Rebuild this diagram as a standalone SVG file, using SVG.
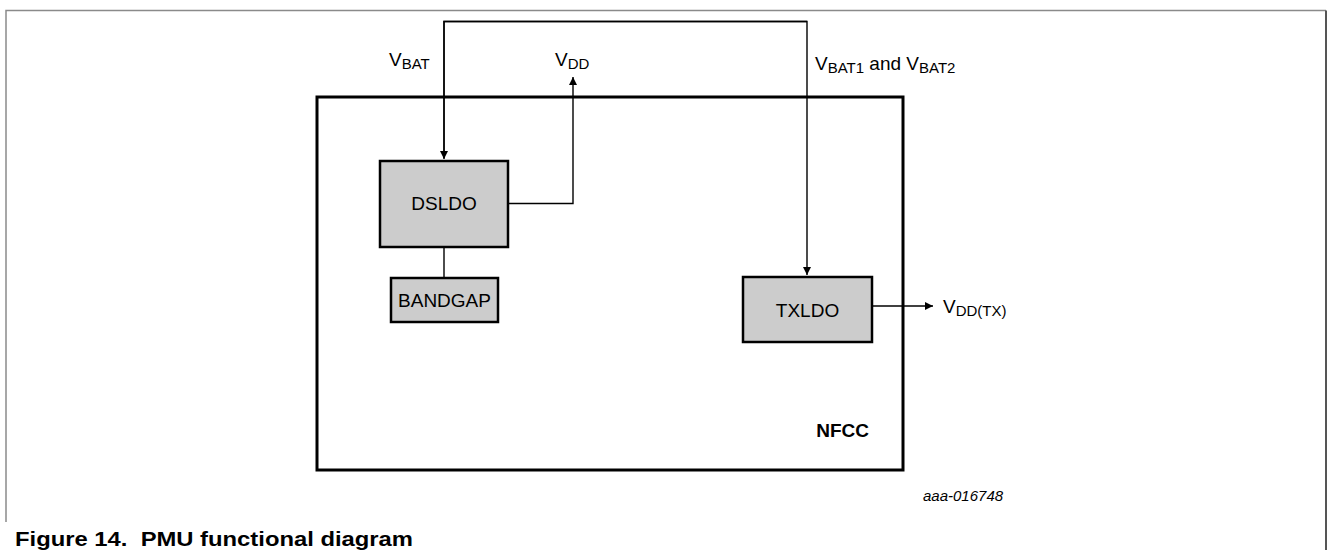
<svg xmlns="http://www.w3.org/2000/svg" width="1328" height="550" viewBox="0 0 1328 550">
<style>
text{font-family:"Liberation Sans",Arial,sans-serif;fill:#000}
.lbl{font-size:19px}
.sub{font-size:15px}
.blk{fill:#cccccc;stroke:#000;stroke-width:2.5}
.wire{fill:none;stroke:#000;stroke-width:1.4}
</style>
<defs>
<marker id="arr" viewBox="0 0 10 10" refX="10" refY="5" markerWidth="8" markerHeight="8" markerUnits="userSpaceOnUse" orient="auto">
<path d="M0,0 L10,5 L0,10 z" fill="#000"/>
</marker>
</defs>
<g id="frame">
<path d="M6,522 V10.5 H1326" fill="none" stroke="#8a8a8a" stroke-width="1.5"/>
<path d="M1326,10.5 V550" fill="none" stroke="#555" stroke-width="2"/>
</g>
<g id="nfcc">
<rect x="317" y="97" width="586" height="373" fill="none" stroke="#000" stroke-width="3"/>
<text x="869" y="437" font-size="19" font-weight="bold" text-anchor="end">NFCC</text>
</g>
<g id="connectors">
<path class="wire" d="M444,158 V21.5 H807 V275" marker-end="url(#arr)"/>
<path class="wire" d="M807,21.5 H444 V159" marker-end="url(#arr)"/>
<path class="wire" d="M508,203.5 H573 V77" marker-end="url(#arr)"/>
<path class="wire" d="M444,247 V278"/>
<path class="wire" d="M872,306 H933" marker-end="url(#arr)"/>
</g>
<g id="dsldo">
<rect class="blk" x="380" y="161" width="128" height="86"/>
<text class="lbl" x="444" y="210" text-anchor="middle">DSLDO</text>
</g>
<g id="bandgap">
<rect class="blk" x="391" y="278" width="107" height="44"/>
<text class="lbl" x="444.5" y="307" text-anchor="middle">BANDGAP</text>
</g>
<g id="txldo">
<rect class="blk" x="743" y="277" width="129" height="65"/>
<text class="lbl" x="807.5" y="317" text-anchor="middle">TXLDO</text>
</g>
<g id="labels">
<text class="lbl" x="389" y="66">V<tspan class="sub" dy="3">BAT</tspan></text>
<text class="lbl" x="555" y="66">V<tspan class="sub" dy="3">DD</tspan></text>
<text class="lbl" x="815" y="70">V<tspan class="sub" dy="3">BAT1</tspan><tspan dy="-3"> and V</tspan><tspan class="sub" dy="3">BAT2</tspan></text>
<text class="lbl" x="943" y="313">V<tspan class="sub" dy="3">DD(TX)</tspan></text>
<text x="923" y="501" font-size="15" font-style="italic">aaa-016748</text>
<text x="15" y="546" font-size="21" font-weight="bold" fill="#333" textLength="398" lengthAdjust="spacingAndGlyphs">Figure 14.&#160; PMU functional diagram</text>
</g>
</svg>
